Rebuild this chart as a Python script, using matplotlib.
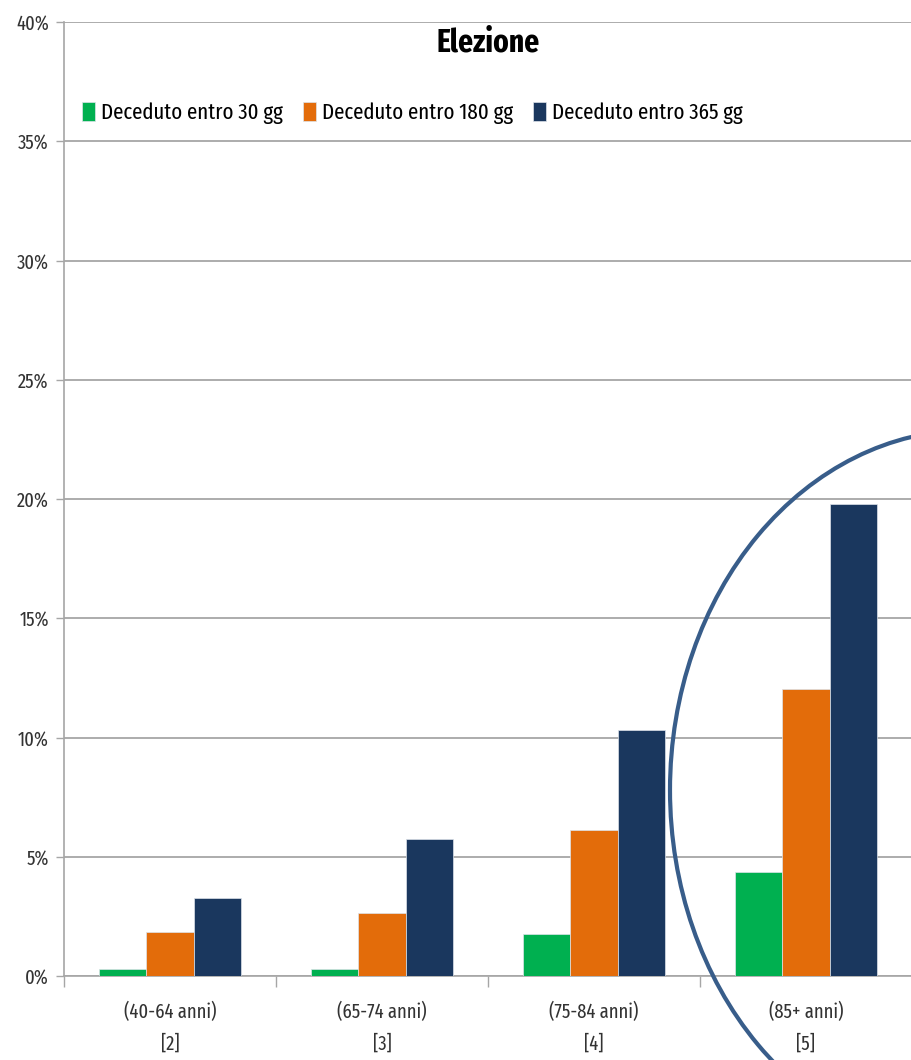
import numpy as np
import matplotlib.pyplot as plt
from matplotlib.patches import Ellipse
from matplotlib.ticker import FuncFormatter, FixedLocator

plt.rcParams['font.family'] = ['Fira Sans Extra Condensed', 'DejaVu Sans']

categories = ['(40-64 anni)\n[2]', '(65-74 anni)\n[3]', '(75-84 anni)\n[4]', '(85+ anni)\n[5]']
series_names = ['Deceduto entro 30 gg', 'Deceduto entro 180 gg', 'Deceduto entro 365 gg']
d30 = [0.28, 0.28, 1.77, 4.36]
d180 = [1.83, 2.64, 6.12, 12.03]
d365 = [3.28, 5.74, 10.31, 19.78]
colors = ['#00b050', '#e36c0a', '#1a375e']
yticks = [0, 5, 10, 15, 20, 25, 30, 35, 40]

fig = plt.figure(figsize=(9.12, 10.6), dpi=100)
ax = fig.add_axes([64/912, 84/1060, 848/912, 954/1060])

x = np.arange(len(categories))
w = 0.222
for i, (vals, name) in enumerate(zip([d30, d180, d365], series_names)):
    ax.bar(x + (i - 1) * w, vals, w, color=colors[i], label=name,
           edgecolor='#dde3ea', linewidth=0.5, zorder=3)

ax.set_xlim(-0.5, 3.5)
ax.set_ylim(0, 40)
ax.set_yticks(yticks)
ax.yaxis.set_major_formatter(FuncFormatter(lambda v, p: '%d%%' % v))
ax.yaxis.grid(True, color='#a6a6a6', linewidth=1.3, zorder=0)
ax.set_xticks(x)
ax.set_xticklabels(categories, fontsize=14.5, color='#333333', linespacing=1.75)
ax.xaxis.set_minor_locator(FixedLocator([-0.5, 0.5, 1.5, 2.5, 3.5]))
ax.tick_params(axis='x', which='major', length=0, pad=19)
ax.tick_params(axis='x', which='minor', length=8, color='#a6a6a6', width=1)
ax.tick_params(axis='y', length=6, color='#a6a6a6', width=1, labelsize=14.5,
               labelcolor='#333333', pad=5)
for s in ['top', 'right']:
    ax.spines[s].set_visible(False)
for s in ['left', 'bottom']:
    ax.spines[s].set_color('#a6a6a6')
    ax.spines[s].set_linewidth(1.2)

ax.text(0.5, 1 - 30/954, 'Elezione', transform=ax.transAxes, ha='center',
        va='baseline', fontsize=23, fontweight='bold')
fig.legend(loc='center left', bbox_to_anchor=(71/912, 1 - 113/1060), ncol=3,
           frameon=False, fontsize=16.3, handlelength=0.55, handleheight=0.95,
           handletextpad=0.27, columnspacing=0.9, borderpad=0)

circle = Ellipse((970/912, 1 - 790/1060), 600/912, 720/1060,
                 transform=fig.transFigure, fill=False, edgecolor='#385d8a',
                 linewidth=3, clip_on=False, zorder=5)
fig.patches.append(circle)

fig.savefig('out.png', dpi=100)
